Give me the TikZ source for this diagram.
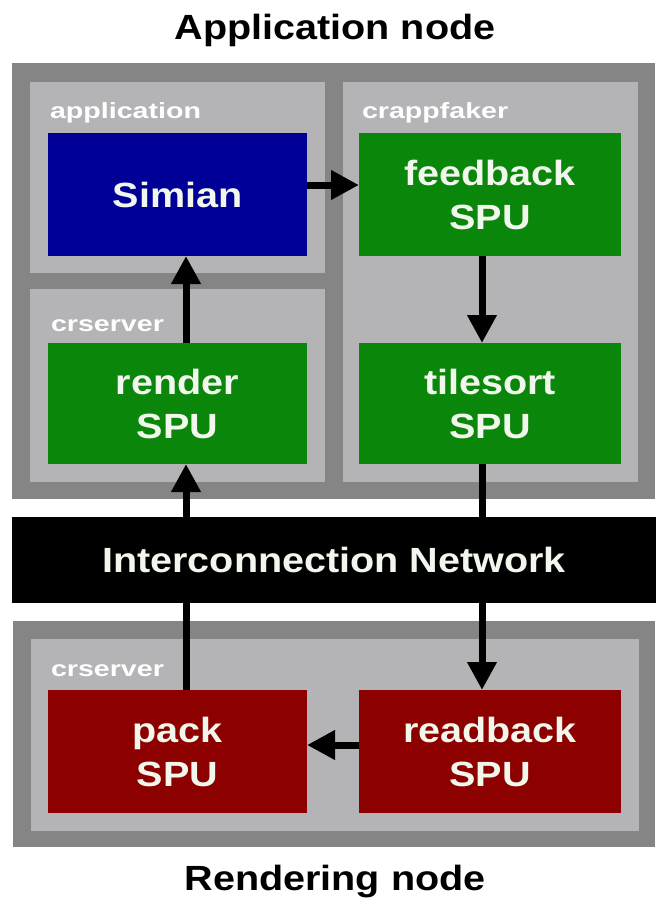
\documentclass[tikz,border=0pt]{standalone}
\usepackage{fontspec}
\setmainfont{Liberation Sans}
\newfontfamily\bigf{Liberation Sans}[FakeStretch=1.13]
\newfontfamily\lblf{Liberation Sans}[FakeStretch=1.3]
\usetikzlibrary{arrows.meta}
\definecolor{outerg}{HTML}{858585}
\definecolor{innerg}{HTML}{B4B3B5}
\definecolor{simblue}{HTML}{000096}
\definecolor{spugreen}{HTML}{0A870A}
\definecolor{spured}{HTML}{8C0000}
\definecolor{textw}{HTML}{F2F7EE}
\begin{document}
\begin{tikzpicture}[x=1pt,y=-1pt,
  box/.style={rectangle, draw=none, inner sep=0pt, outer sep=0pt},
  spu/.style={box, text=textw, align=center, font=\bigf\bfseries\fontsize{35}{44}\selectfont},
  lbl/.style={anchor=base west, inner sep=0pt, outer sep=0pt, text=white, font=\lblf\bfseries\fontsize{22}{26}\selectfont},
  title/.style={inner sep=0pt, text=black, font=\bigf\bfseries\fontsize{35}{40}\selectfont},
  arr/.style={line width=7pt, -{Triangle[width=28pt,length=28pt]}}]
\useasboundingbox[fill=white] (0,0) rectangle (659,906);

% titles
\node[title] (apptitle) at (335,30) {Application node};
\node[title] (rendtitle) at (335,882) {Rendering node};

% application node containers
\node[box, fill=outerg, minimum width=643pt, minimum height=436pt] (outertop) at (333.5,281) {};
\node[box, fill=innerg, minimum width=295pt, minimum height=191pt] (appbox) at (177.5,177.5) {};
\node[box, fill=innerg, minimum width=295pt, minimum height=193pt] (crstop) at (177.5,385.5) {};
\node[box, fill=innerg, minimum width=295pt, minimum height=400pt] (crapp) at (490.5,282) {};

\node[lbl] (lapp) at (50,118) {application};
\node[lbl] (lcrapp) at (362,118) {crappfaker};
\node[lbl] (lcrstop) at (51,331) {crserver};

% SPUs top
\node[spu, fill=simblue, minimum width=259pt, minimum height=123pt] (simian) at (177.5,194.5) {Simian};
\node[spu, fill=spugreen, minimum width=259pt, minimum height=121pt] (render) at (177.5,403.5) {render\\SPU};
\node[spu, fill=spugreen, minimum width=262pt, minimum height=123pt] (feedback) at (490,194.5) {feedback\\SPU};
\node[spu, fill=spugreen, minimum width=262pt, minimum height=121pt] (tilesort) at (490,403.5) {tilesort\\SPU};

% rendering node containers
\node[box, fill=outerg, minimum width=642pt, minimum height=226pt] (outerbot) at (334,734) {};
\node[box, fill=innerg, minimum width=608pt, minimum height=192pt] (crsbot) at (335,735) {};
\node[lbl] (lcrsbot) at (51,676) {crserver};

\node[spu, fill=spured, minimum width=259pt, minimum height=123pt] (pack) at (177.5,751.5) {pack\\SPU};
\node[spu, fill=spured, minimum width=262pt, minimum height=123pt] (readback) at (490,751.5) {readback\\SPU};

% arrows
\draw[arr] ([xshift=8.5pt]render.north) -- ([xshift=8.5pt]simian.south);
\draw[arr] ([xshift=8.5pt]pack.north) -- ([xshift=8.5pt]render.south);
\draw[arr] ([yshift=9.5pt]simian.east) -- ([yshift=9.5pt]feedback.west);
\draw[arr] ([xshift=-8pt]feedback.south) -- ([xshift=-8pt]tilesort.north);
\draw[arr] ([xshift=-8pt]tilesort.south) -- ([xshift=-8pt]readback.north);
\draw[arr] ([yshift=6.5pt]readback.west) -- ([yshift=6.5pt]pack.east);

% network (drawn over the connectors, which pass through it)
\node[spu, fill=black, text=textw, minimum width=644pt, minimum height=86pt] (network) at (334,560) {Interconnection Network};
\end{tikzpicture}
\end{document}
